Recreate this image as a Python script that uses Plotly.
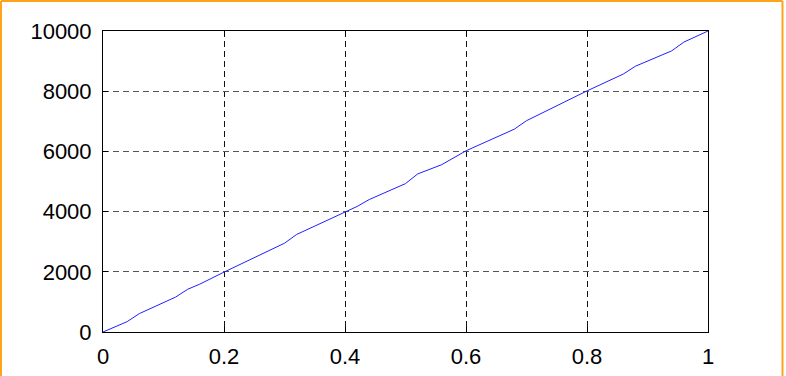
import plotly.graph_objects as go

# Breakpoints of the piecewise-linear curve
x_vals = [0, 0.04, 0.06, 0.12, 0.14, 0.16, 0.20, 0.30, 0.32, 0.40, 0.42, 0.44,
          0.50, 0.52, 0.56, 0.60, 0.68, 0.70, 0.80, 0.86, 0.88, 0.94, 0.96, 1.0]
y_vals = [0, 345, 610, 1160, 1420, 1590, 1990, 2950, 3240, 3990, 4170, 4400,
          4930, 5250, 5560, 6020, 6740, 7020, 8010, 8570, 8830, 9340, 9630, 10000]

x_ticks = [0, 0.2, 0.4, 0.6, 0.8, 1]
x_tick_text = ["0", "0.2", "0.4", "0.6", "0.8", "1"]
y_ticks = [0, 2000, 4000, 6000, 8000, 10000]
y_tick_text = ["0", "2000", "4000", "6000", "8000", "10000"]

W, H = 786, 376
L, R, T, B = 103, 78, 31, 44
pw, ph = W - L - R, H - T - B


def px_to_paper_x(px):
    return (px - L) / pw


def px_to_paper_y(py):
    return (H - B - py) / ph


fig = go.Figure()
fig.add_trace(go.Scatter(
    x=x_vals, y=y_vals, mode="lines",
    line=dict(color="#2020ff", width=1),
    showlegend=False, hoverinfo="skip",
))

axis_common = dict(
    showline=True, linecolor="black", linewidth=1, mirror="ticks",
    ticks="inside", ticklen=5, tickcolor="black", tickwidth=1,
    showgrid=True, griddash="6px,4px", gridwidth=1,
    zeroline=False, automargin=False,
    tickfont=dict(family="Liberation Sans, Arial, sans-serif", size=22, color="black"),
)

fig.update_xaxes(range=[0, 1], tickvals=x_ticks, ticktext=x_tick_text,
                 gridcolor="#111111", ticklabelstandoff=5, **axis_common)
fig.update_yaxes(range=[0, 10000], tickvals=y_ticks, ticktext=y_tick_text,
                 gridcolor="#555555", ticklabelstandoff=6, **axis_common)

# Orange frame on the top, left and right edges of the image
orange = "#ffa31a"
x0, x1 = px_to_paper_x(1), px_to_paper_x(782.5)
y0, y1 = px_to_paper_y(H + 2), px_to_paper_y(1)
for (ax0, ay0, ax1, ay1) in [(x0, y1, x1, y1), (x0, y0, x0, y1), (x1, y0, x1, y1)]:
    fig.add_shape(type="line", xref="paper", yref="paper",
                  x0=ax0, y0=ay0, x1=ax1, y1=ay1,
                  line=dict(color=orange, width=2), layer="above")

fig.update_layout(
    width=W, height=H,
    margin=dict(l=L, r=R, t=T, b=B, pad=0),
    paper_bgcolor="white", plot_bgcolor="white",
)

fig.write_html("out.html")
